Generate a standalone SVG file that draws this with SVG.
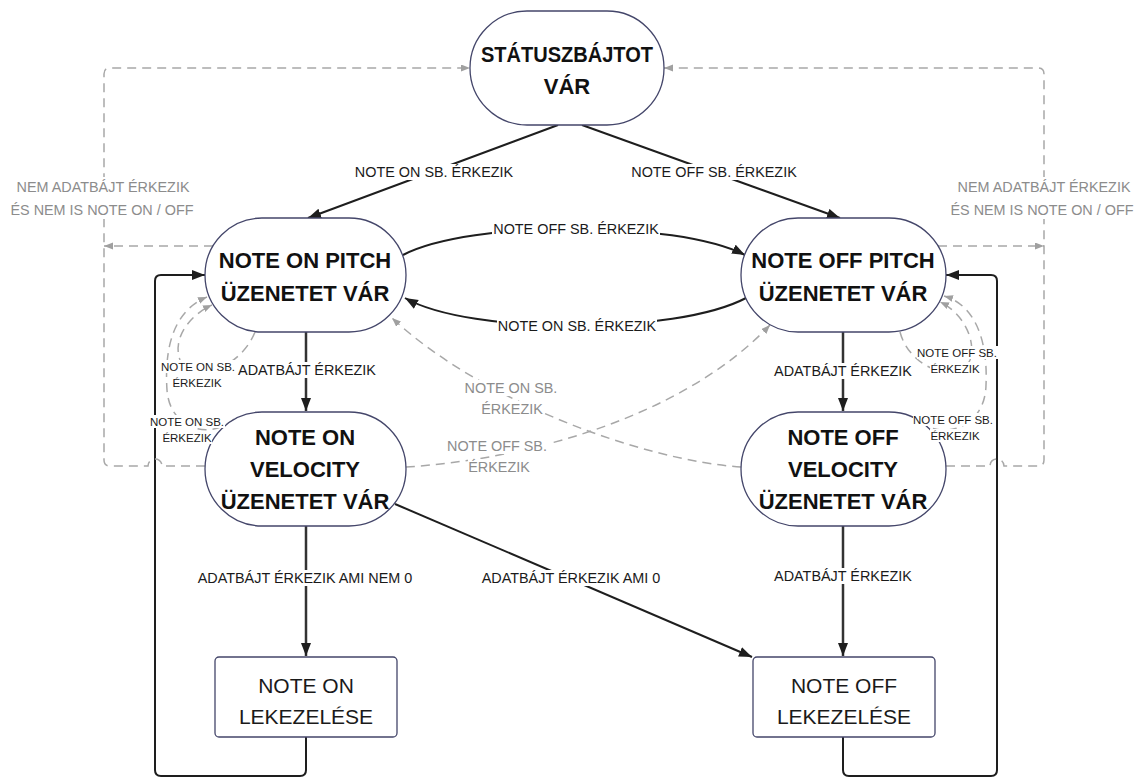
<svg xmlns="http://www.w3.org/2000/svg" width="1144" height="778" viewBox="0 0 1144 778">
<style>
.node{fill:#fff;stroke:#44466a;stroke-width:1.3}
.nt{font-family:"Liberation Sans",Arial,sans-serif;font-weight:bold;font-size:22px;fill:#111;text-anchor:middle}
.bt{font-family:"Liberation Sans",Arial,sans-serif;font-size:21px;fill:#1a1a1a;text-anchor:middle}
.lb{font-family:"Liberation Sans",Arial,sans-serif;font-size:14.4px;fill:#1a1a1a;text-anchor:middle}
.gl{font-family:"Liberation Sans",Arial,sans-serif;font-size:14.4px;fill:#8c8c8c;text-anchor:middle}
.sl{font-family:"Liberation Sans",Arial,sans-serif;font-size:11.5px;fill:#1a1a1a;text-anchor:middle}
.bg{fill:#fff}
.solid{fill:none;stroke:#1e1e1e;stroke-width:2;marker-end:url(#ah)}
.vert{fill:none;stroke:#333;stroke-width:2.5;marker-end:url(#ah)}
.dash{fill:none;stroke:#a8a8a8;stroke-width:1.5;stroke-dasharray:9 6}
.dasha{marker-end:url(#gh)}
</style>
<defs>
<marker id="ah" markerUnits="userSpaceOnUse" markerWidth="14" markerHeight="12" refX="13" refY="5" orient="auto"><path d="M0,0 L13,5 L0,10 z" fill="#1e1e1e"/></marker>
<marker id="gh" markerUnits="userSpaceOnUse" markerWidth="10" markerHeight="8" refX="9" refY="3.5" orient="auto"><path d="M0,0 L9,3.5 L0,7 z" fill="#a0a0a0"/></marker>
</defs>
<rect width="1144" height="778" fill="#fff"/>
<g id="connectors">
<path class="solid" d="M558,125 L308,218"/>
<path class="solid" d="M582,125 L840,218"/>
<path class="solid" d="M403,255 C470,220 676,220 745,255"/>
<path class="solid" d="M746,298 C676,335 470,335 405,298"/>
<path class="vert" d="M306,332 V411"/>
<path class="vert" d="M843,332 V411"/>
<path class="vert" d="M306,526 V656"/>
<path class="vert" d="M843,526 V656"/>
<path class="solid" d="M395,504 L752,657"/>
<path class="solid" d="M306,737 V770 Q306,776 300,776 H161 Q155,776 155,770 V281 Q155,275 161,275 H205"/>
<path class="solid" d="M843,737 V770 Q843,776 849,776 H991 Q997,776 997,770 V281 Q997,275 991,275 H946"/>
<path class="dash dasha" d="M205,466 H162 A7,7 0 0 0 148,466 H110 Q104,466 104,460 V74 Q104,68 110,68 H470"/>
<path class="dash dasha" d="M213,246 H104"/>
<path class="dash dasha" d="M946,466 H990 A7,7 0 0 1 1004,466 H1038 Q1044,466 1044,460 V74 Q1044,68 1038,68 H664"/>
<path class="dash dasha" d="M938,246 H1044"/>
<path class="dash dasha" d="M741,467 C640,460 480,400 392,318"/>
<path class="dash dasha" d="M406,467 C520,460 680,420 770,325"/>
<path class="dash dasha" d="M255,332 C240,370 190,385 180,360 C172,338 190,315 212,305"/>
<path class="dash dasha" d="M234,419 C210,440 170,430 167,390 C164,345 175,310 207,297"/>
<path class="dash dasha" d="M900,332 C910,370 960,385 970,360 C977,340 962,312 940,302"/>
<path class="dash dasha" d="M920,421 C940,440 985,430 986,385 C988,340 975,305 944,296"/>
</g>
<g id="n-status">
<rect class="node" x="470" y="11" width="194" height="114" rx="57"/>
<text class="nt" x="567" y="62" textLength="172" lengthAdjust="spacingAndGlyphs">STÁTUSZBÁJTOT</text>
<text class="nt" x="567" y="94">VÁR</text>
</g>
<g id="n-onpitch">
<rect class="node" x="205" y="218" width="201" height="114" rx="57"/>
<text class="nt" x="305" y="268">NOTE ON PITCH</text>
<text class="nt" x="305" y="301">ÜZENETET VÁR</text>
</g>
<g id="n-offpitch">
<rect class="node" x="741" y="218" width="205" height="114" rx="57"/>
<text class="nt" x="843" y="268">NOTE OFF PITCH</text>
<text class="nt" x="843" y="301">ÜZENETET VÁR</text>
</g>
<g id="n-onvel">
<rect class="node" x="205" y="412" width="201" height="114" rx="57"/>
<text class="nt" x="305" y="445">NOTE ON</text>
<text class="nt" x="305" y="477">VELOCITY</text>
<text class="nt" x="305" y="509">ÜZENETET VÁR</text>
</g>
<g id="n-offvel">
<rect class="node" x="741" y="412" width="205" height="114" rx="57"/>
<text class="nt" x="843" y="445">NOTE OFF</text>
<text class="nt" x="843" y="477">VELOCITY</text>
<text class="nt" x="843" y="509">ÜZENETET VÁR</text>
</g>
<g id="n-onhandle">
<rect class="node" x="215" y="657" width="182" height="80" rx="4"/>
<text class="bt" x="306" y="693">NOTE ON</text>
<text class="bt" x="306" y="724">LEKEZELÉSE</text>
</g>
<g id="n-offhandle">
<rect class="node" x="753" y="657" width="182" height="80" rx="4"/>
<text class="bt" x="844" y="693">NOTE OFF</text>
<text class="bt" x="844" y="724">LEKEZELÉSE</text>
</g>
<g id="labels">
<rect class="bg" x="354" y="164" width="160" height="16"/><text class="lb" x="434" y="177">NOTE ON SB. ÉRKEZIK</text>
<rect class="bg" x="630" y="164" width="168" height="16"/><text class="lb" x="714" y="177">NOTE OFF SB. ÉRKEZIK</text>
<rect class="bg" x="492" y="221" width="168" height="16"/><text class="lb" x="576" y="234">NOTE OFF SB. ÉRKEZIK</text>
<rect class="bg" x="497" y="318" width="160" height="16"/><text class="lb" x="577" y="331">NOTE ON SB. ÉRKEZIK</text>
<rect class="bg" x="237" y="362" width="141" height="16"/><text class="lb" x="307" y="375">ADATBÁJT ÉRKEZIK</text>
<rect class="bg" x="773" y="363" width="141" height="16"/><text class="lb" x="843" y="376">ADATBÁJT ÉRKEZIK</text>
<rect class="bg" x="196" y="570" width="219" height="16"/><text class="lb" x="305" y="583">ADATBÁJT ÉRKEZIK AMI NEM 0</text>
<rect class="bg" x="480" y="570" width="183" height="16"/><text class="lb" x="571" y="583">ADATBÁJT ÉRKEZIK AMI 0</text>
<rect class="bg" x="773" y="568" width="141" height="16"/><text class="lb" x="843" y="581">ADATBÁJT ÉRKEZIK</text>
<rect class="bg" x="8" y="177" width="190" height="42"/>
<text class="gl" x="103" y="192">NEM ADATBÁJT ÉRKEZIK</text>
<text class="gl" x="102" y="215">ÉS NEM IS NOTE ON / OFF</text>
<rect class="bg" x="946" y="177" width="192" height="42"/>
<text class="gl" x="1044" y="192">NEM ADATBÁJT ÉRKEZIK</text>
<text class="gl" x="1042" y="215">ÉS NEM IS NOTE ON / OFF</text>
<rect class="bg" x="464" y="380" width="95" height="16"/><text class="gl" x="511" y="393">NOTE ON SB.</text>
<rect class="bg" x="481" y="401" width="63" height="16"/><text class="gl" x="512" y="414">ÉRKEZIK</text>
<rect class="bg" x="446" y="438" width="102" height="16"/><text class="gl" x="497" y="451">NOTE OFF SB.</text>
<rect class="bg" x="468" y="459" width="63" height="16"/><text class="gl" x="499" y="472">ÉRKEZIK</text>
<rect class="bg" x="161" y="360" width="75" height="13"/><text class="sl" x="198" y="371">NOTE ON SB.</text>
<rect class="bg" x="172" y="376" width="50" height="13"/><text class="sl" x="197" y="387">ÉRKEZIK</text>
<rect class="bg" x="150" y="415" width="75" height="13"/><text class="sl" x="187" y="426">NOTE ON SB.</text>
<rect class="bg" x="162" y="431" width="50" height="13"/><text class="sl" x="187" y="442">ÉRKEZIK</text>
<rect class="bg" x="917" y="346" width="81" height="13"/><text class="sl" x="957" y="357">NOTE OFF SB.</text>
<rect class="bg" x="930" y="362" width="50" height="13"/><text class="sl" x="955" y="373">ÉRKEZIK</text>
<rect class="bg" x="913" y="413" width="81" height="13"/><text class="sl" x="953" y="424">NOTE OFF SB.</text>
<rect class="bg" x="930" y="429" width="50" height="13"/><text class="sl" x="955" y="440">ÉRKEZIK</text>
</g>
</svg>
